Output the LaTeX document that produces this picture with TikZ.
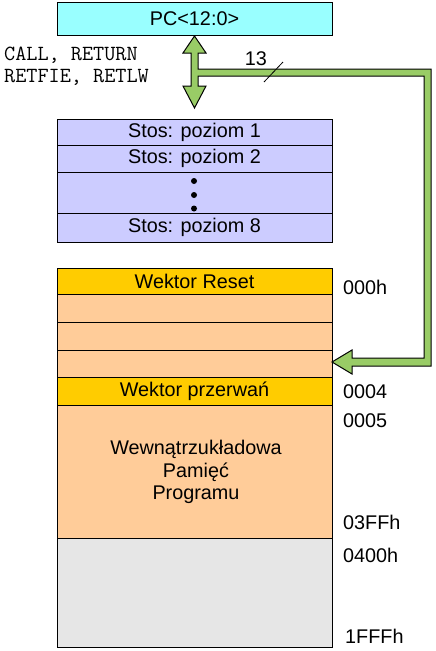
\documentclass[tikz,border=0pt]{standalone}
\usepackage{fontspec}
\setmainfont{Liberation Sans}
\definecolor{pccyan}{HTML}{99FFFF}
\definecolor{stackblue}{HTML}{CCCCFF}
\definecolor{vecgold}{HTML}{FFCC00}
\definecolor{mempeach}{HTML}{FFCC99}
\definecolor{memgray}{HTML}{E6E6E6}
\definecolor{busgreen}{HTML}{99CC66}
\tikzset{
  cell/.style={draw=black, line width=1pt, anchor=north west, inner sep=0pt, outer sep=0pt,
    minimum width=275pt, font=\fontsize{19.8}{22}\selectfont},
  addr/.style={anchor=west, inner sep=0pt, font=\fontsize{19.8}{22}\selectfont},
  mono/.style={anchor=west, inner sep=0pt, font=\ttfamily\fontsize{21.6}{22}\selectfont},
  bus/.style={draw=black, line width=1pt, fill=busgreen, line join=miter}
}
\begin{document}
\begin{tikzpicture}[x=1pt,y=-1pt]
\useasboundingbox (0,0) rectangle (436,651);
% PC register
\node[cell, fill=pccyan, minimum height=33pt] (pc) at (57,2) {PC<12:0>};
% stack
\node[cell, fill=stackblue, minimum height=26pt] (s1) at (57,119) {Stos: poziom 1};
\node[cell, fill=stackblue, minimum height=27pt] (s2) at (57,145) {Stos: poziom 2};
\node[cell, fill=stackblue, minimum height=41pt] (sd) at (57,172) {};
\node[cell, fill=stackblue, minimum height=29pt] (s8) at (57,213) {Stos: poziom 8};
\fill (194,181) circle (3pt) (194,195) circle (3pt) (194,208.5) circle (3pt);
% program memory
\node[cell, fill=vecgold, minimum height=26pt] (reset) at (57,268) {Wektor Reset};
\node[cell, fill=mempeach, minimum height=28pt] (m1) at (57,294) {};
\node[cell, fill=mempeach, minimum height=28pt] (m2) at (57,322) {};
\node[cell, fill=mempeach, minimum height=27pt] (m3) at (57,350) {};
\node[cell, fill=vecgold, minimum height=28pt] (irq) at (57,377) {Wektor przerwań};
\node[cell, fill=mempeach, minimum height=133pt] (main) at (57,405) {};
\node[align=center, inner sep=0pt, font=\fontsize{19.8}{22.5}\selectfont] (maintxt) at (196,472) {Wewnątrzukładowa\\Pamięć\\Programu};
\node[cell, fill=memgray, minimum height=109pt] (ext) at (57,538) {};
% addresses
\node[addr] (a0) at (343,287) {000h};
\node[addr] (a4) at (343,392) {0004};
\node[addr] (a5) at (343,421) {0005};
\node[addr] (a3ff) at (343,522) {03FFh};
\node[addr] (a400) at (343,555) {0400h};
\node[addr] (a1fff) at (345,636) {1FFFh};
% instructions
\node[mono] (i1) at (4,55) {CALL, RETURN};
\node[mono] (i2) at (4,77) {RETFIE, RETLW};
% bus arrow
\draw[bus] (194.5,36) -- (206,53) -- (198,53) -- (198,69) -- (431,69) -- (431,366)
  -- (352,366) -- (352,374) -- (332,362) -- (352,350) -- (352,358) -- (424,358)
  -- (424,76) -- (198,76) -- (198,86) -- (206,86) -- (194.5,108) -- (183,86)
  -- (191,86) -- (191,53) -- (183,53) -- cycle;
% bus width
\draw[line width=0.8pt] (264,82) -- (283,62);
\node[addr, anchor=center] (w13) at (256,59) {13};
\end{tikzpicture}
\end{document}
